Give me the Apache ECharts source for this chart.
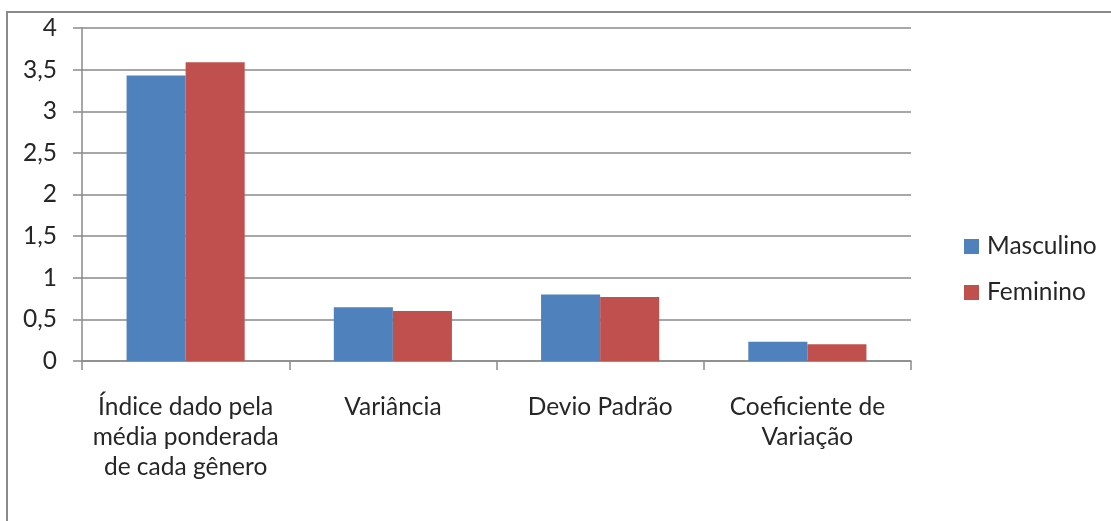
<!DOCTYPE html>
<html>
<head>
<meta charset="utf-8">
<script src="https://cdn.jsdelivr.net/npm/echarts@6/dist/echarts.min.js"></script>
<style>
  html, body { margin: 0; padding: 0; background: #fff; }
  #chart { width: 1111px; height: 521px; }
</style>
</head>
<body>
<div id="chart"></div>
<script>
const categories = [
  "Índice dado pela\nmédia ponderada\nde cada gênero",
  "Variância",
  "Devio Padrão",
  "Coeficiente de\nVariação"
];
const masculino = [3.43, 0.645, 0.80, 0.23];
const feminino = [3.59, 0.60, 0.77, 0.20];
const seriesNames = ["Masculino", "Feminino"];

const chart = echarts.init(document.getElementById("chart"));
const font = "Lato, 'Open Sans', sans-serif";

chart.setOption({
  animation: false,
  textStyle: { fontFamily: font },
  graphic: [
    {
      type: "rect",
      shape: { x: 7, y: 12, width: 1200, height: 600 },
      style: { fill: "none", stroke: "#8a8a8a", lineWidth: 2 },
      silent: true
    }
  ],
  legend: {
    orient: "vertical",
    left: 959,
    top: 229,
    itemWidth: 15,
    itemHeight: 15,
    itemGap: 21,
    icon: "rect",
    textStyle: {
      fontSize: 24.5,
      lineHeight: 25,
      color: "#262626",
      fontFamily: font,
      padding: [0, 0, 0, 3]
    },
    data: seriesNames
  },
  grid: { left: 82, right: 200, top: 28, bottom: 160 },
  xAxis: {
    type: "category",
    data: categories,
    axisLine: { lineStyle: { color: "#8a8a8a", width: 1.5 } },
    axisTick: { show: true, length: 9, lineStyle: { color: "#8a8a8a", width: 1.5 } },
    axisLabel: {
      interval: 0,
      margin: 31,
      fontSize: 24.5,
      lineHeight: 30,
      color: "#262626",
      fontFamily: font
    }
  },
  yAxis: {
    type: "value",
    min: 0,
    max: 4,
    interval: 0.5,
    axisLine: { show: true, lineStyle: { color: "#8a8a8a", width: 1.5 } },
    axisTick: { show: true, length: 9, lineStyle: { color: "#8a8a8a", width: 1.5 } },
    splitLine: { lineStyle: { color: "#8a8a8a", width: 1.5 } },
    axisLabel: {
      margin: 25,
      fontSize: 24.5,
      color: "#262626",
      fontFamily: font,
      formatter: v => String(v).replace(".", ",")
    }
  },
  series: [
    {
      name: seriesNames[0],
      type: "bar",
      data: masculino,
      barGap: "0%",
      barCategoryGap: "43%",
      itemStyle: { color: "#4F81BD" }
    },
    {
      name: seriesNames[1],
      type: "bar",
      data: feminino,
      itemStyle: { color: "#C0504D" }
    }
  ]
});
</script>
</body>
</html>
